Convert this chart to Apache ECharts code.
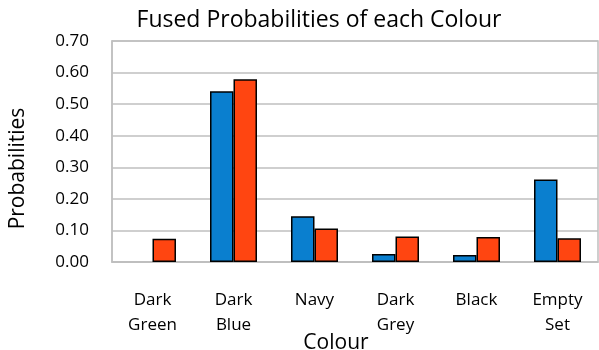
<!DOCTYPE html>
<html><head><meta charset="utf-8">
<script src="https://cdn.jsdelivr.net/npm/echarts@6/dist/echarts.min.js"></script>
<style>html,body{margin:0;padding:0;background:#fff}#c{width:599px;height:350px}</style>
</head><body><div id="c"></div>
<script>
const categories = ["Dark\nGreen", "Dark\nBlue", "Navy", "Dark\nGrey", "Black", "Empty\nSet"];
const seriesBlue = [0, 0.541, 0.145, 0.025, 0.022, 0.261];
const seriesOrange = [0.074, 0.579, 0.106, 0.081, 0.079, 0.075];
const yTicks = [0, 0.7, 0.1];

const font = "'Open Sans', sans-serif";
const toItems = arr => arr.map(v => v === 0 ? {value: v, itemStyle: {borderWidth: 0}} : v);
const chart = echarts.init(document.getElementById('c'));
chart.setOption({
  animation: false,
  title: {
    text: 'Fused Probabilities of each Colour',
    left: 314, top: 4, textAlign: 'center',
    textStyle: {fontFamily: font, fontSize: 23, fontWeight: 'normal', color: '#000'}
  },
  grid: {left: 112, right: 1, top: 41, bottom: 88, show: true, borderColor: '#BFBFBF', borderWidth: 1.5,
         containLabel: false, outerBoundsMode: 'none'},
  xAxis: {
    type: 'category', data: categories,
    name: 'Colour', nameLocation: 'middle', nameGap: 71, nameMoveOverlap: false,
    nameTextStyle: {fontFamily: font, fontSize: 21, color: '#000', padding: [0, 38, 0, 0]},
    axisLine: {lineStyle: {color: '#BFBFBF', width: 1.5}},
    axisTick: {show: false},
    axisLabel: {fontFamily: font, fontSize: 17, color: '#000', lineHeight: 25, margin: 26, interval: 0}
  },
  yAxis: {
    type: 'value', min: yTicks[0], max: yTicks[1], interval: yTicks[2],
    name: 'Probabilities', nameLocation: 'middle', nameGap: 83, nameMoveOverlap: false,
    nameTextStyle: {fontFamily: font, fontSize: 21, color: '#000', padding: [0, 34, 0, 0]},
    axisLine: {show: true, lineStyle: {color: '#BFBFBF', width: 1.5}},
    splitLine: {lineStyle: {color: '#BFBFBF', width: 1.5}},
    axisLabel: {fontFamily: font, fontSize: 17, color: '#000', margin: 23, formatter: v => v.toFixed(2)}
  },
  series: [
    {type: 'bar', data: toItems(seriesBlue), barGap: '0%', barCategoryGap: '42%',
     itemStyle: {color: '#0A7FCF', borderColor: '#000', borderWidth: 1.5}},
    {type: 'bar', data: toItems(seriesOrange),
     itemStyle: {color: '#FF4511', borderColor: '#000', borderWidth: 1.5}}
  ]
});
</script></body></html>
